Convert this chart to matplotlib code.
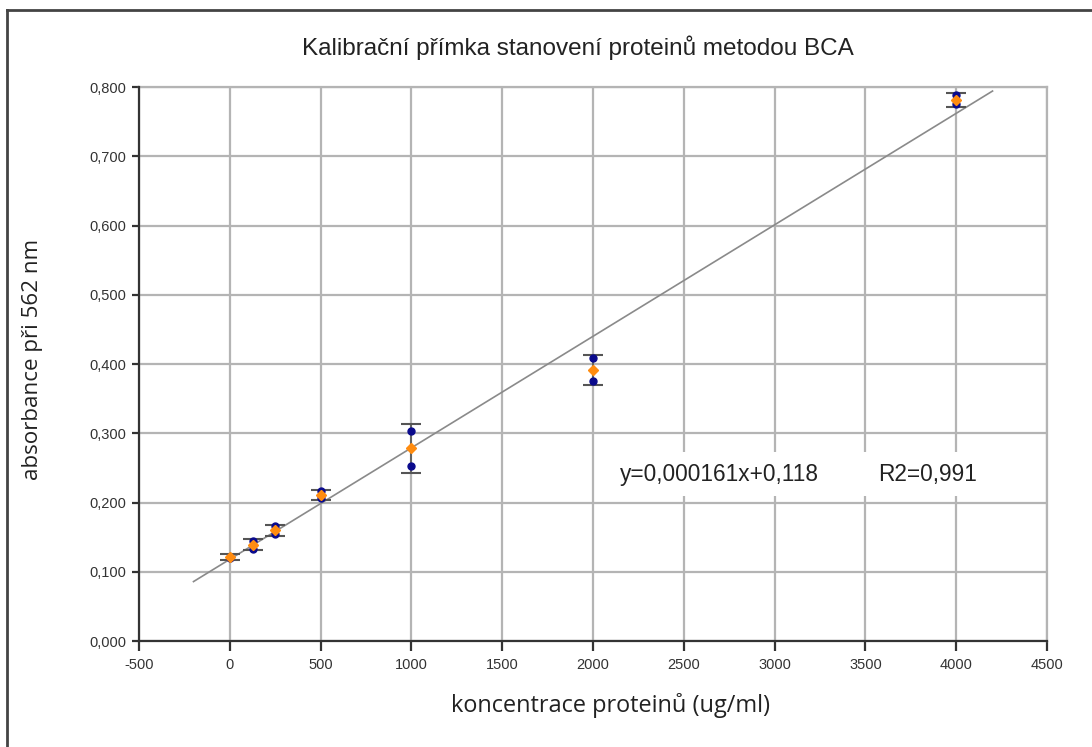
import matplotlib
matplotlib.use("Agg")
import matplotlib.pyplot as plt
from matplotlib.lines import Line2D
from matplotlib.patches import Rectangle

concentration = [0, 125, 250, 500, 1000, 2000, 4000]
replicate_1 = [0.122, 0.145, 0.166, 0.216, 0.303, 0.408, 0.789]
replicate_2 = [0.120, 0.133, 0.155, 0.207, 0.252, 0.375, 0.775]
mean_abs = [0.121, 0.139, 0.160, 0.211, 0.278, 0.391, 0.781]
err_abs = [0.004, 0.008, 0.008, 0.007, 0.036, 0.022, 0.010]
slope = 0.000161
intercept = 0.118
fit_range = [-200, 4200]
x_ticks = [-500, 0, 500, 1000, 1500, 2000, 2500, 3000, 3500, 4000, 4500]
y_ticks = [0.0, 0.1, 0.2, 0.3, 0.4, 0.5, 0.6, 0.7, 0.8]

plt.rcParams['font.family'] = ['Liberation Sans', 'DejaVu Sans']
fig = plt.figure(figsize=(10.92, 7.47), dpi=100)
ax = fig.add_axes([0.1273, 0.1419, 0.8315, 0.7416])

ax.set_xlim(-500, 4500)
ax.set_ylim(0, 0.8)
ax.set_xticks(x_ticks)
ax.set_yticks(y_ticks)
ax.set_xticklabels([str(t) for t in x_ticks])
ax.set_yticklabels([f"{t:.3f}".replace('.', ',') for t in y_ticks])
ax.grid(True, color='#b4b4b4', lw=1.6)
ax.set_axisbelow(True)
for s in ['top', 'right']:
    ax.spines[s].set_visible(False)
for s in ['left', 'bottom']:
    ax.spines[s].set_color('#333333')
    ax.spines[s].set_linewidth(1.6)
ax.tick_params(axis='x', direction='out', length=7, width=1.6, color='#333333', labelsize=10.5, pad=5, labelcolor='#333333')
ax.tick_params(axis='y', direction='out', length=5, width=1.6, color='#333333', labelsize=10.5, pad=4, labelcolor='#333333')
ax.axhline(0.8, color='#b4b4b4', lw=1.6, clip_on=False)
ax.axvline(4500, color='#b4b4b4', lw=1.6, clip_on=False)

fx = fit_range
fy = [slope * v + intercept for v in fx]
ax.plot(fx, fy, color='#8a8a8a', lw=1.2, zorder=3)

ax.errorbar(concentration, mean_abs, yerr=err_abs, fmt='none', ecolor='#555555',
            elinewidth=1.2, capsize=7, capthick=1.5, zorder=4)
ax.plot(concentration, replicate_1, 'o', color='#0a0a8c', ms=5, zorder=5)
ax.plot(concentration, replicate_2, 'o', color='#0a0a8c', ms=5, zorder=5)
ax.plot(concentration, mean_abs, 'D', color='#ff8c10', ms=5.5, zorder=6)

ax.add_patch(Rectangle((2060, 0.209), 2170, 0.064, facecolor='white', edgecolor='none', zorder=6))
ax.text(2150, 0.241, "y=0,000161x+0,118", fontsize=16.3, color='#222222', va='center', ha='left', zorder=7)
ax.text(3571, 0.241, "R2=0,991", fontsize=16.3, color='#222222', va='center', ha='left', zorder=7)

fig.text(0.529, 0.936, "Kalibrační přímka stanovení proteinů metodou BCA", fontsize=17.5,
         ha='center', va='center', color='#222222')
fig.text(0.5595, 0.056, "koncentrace proteinů (ug/ml)", fontsize=16.9, ha='center', va='center',
         color='#222222', family=['Open Sans', 'DejaVu Sans'])
fig.text(0.030, 0.519, "absorbance při 562 nm", fontsize=16.1, ha='center', va='center',
         rotation=90, color='#222222', family=['Open Sans', 'DejaVu Sans'])

fig.add_artist(Line2D([0.0068, 0.0068], [0, 0.987], transform=fig.transFigure, color='#444444', lw=2))
fig.add_artist(Line2D([0.0068, 1.0], [0.987, 0.987], transform=fig.transFigure, color='#444444', lw=2))

fig.savefig("out.png", dpi=100)
